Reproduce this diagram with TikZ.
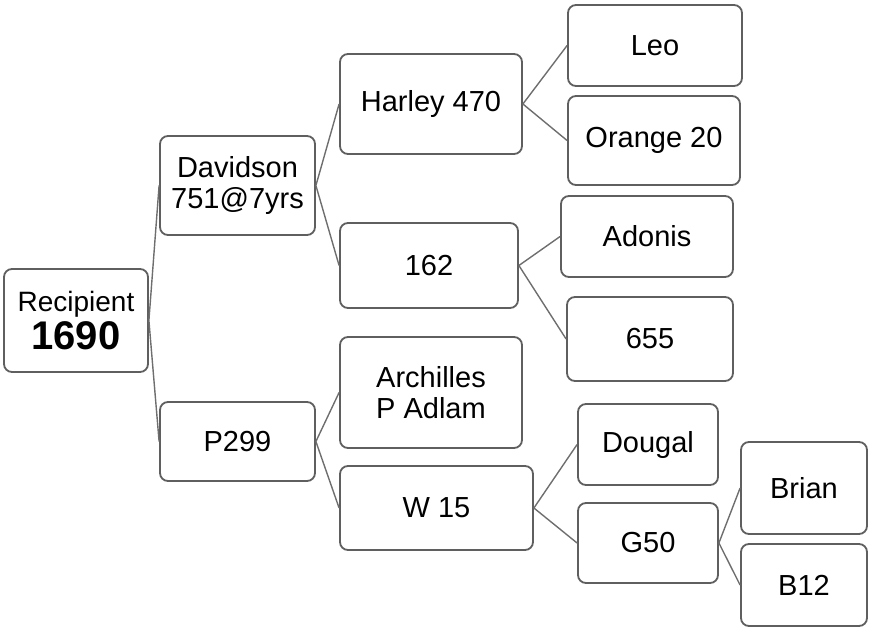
\documentclass[tikz,border=0pt]{standalone}
\usepackage{fontspec}
\setmainfont{Liberation Sans}
\usepackage{xcolor}
\definecolor{edgec}{RGB}{95,95,95}
\definecolor{linec}{RGB}{110,110,110}
\tikzset{
  box/.style={rectangle,rounded corners=4pt,draw=edgec,line width=0.9pt,fill=white,
    inner sep=0pt,align=center,font=\fontsize{14.5}{15.5}\selectfont},
  link/.style={line width=0.7pt,linec},
}

\begin{document}
\begin{tikzpicture}[x=0.5pt,y=-0.5pt,
  w/.style={minimum width=#1pt},
  h/.style={minimum height=#1pt}]
  \useasboundingbox (0,0) rectangle (869,633);
  % ---- root and first generation ----
  \node[box,w=72,h=51.5] (rec) at (76,320.5)
    {{\fontsize{14}{15}\selectfont Recipient}\\[1pt]{\fontsize{20}{21}\selectfont\bfseries 1690}};
  \node[box,w=77.5,h=49.5] (dav) at (237.5,185.5) {Davidson\\751@7yrs};
  \node[box,w=77.5,h=39.5] (p299) at (237.5,441.5) {P299};
  % ---- second generation ----
  \node[box,w=91,h=50] (har) at (431,104) {Harley 470};
  \node[box,w=89,h=42.5] (n162) at (429,265.5) {162};
  \node[box,w=91,h=55.5] (arc) at (431,392.5) {Archilles\\P Adlam};
  \node[box,w=96.5,h=42] (w15) at (436.5,508) {W 15};
  % ---- third generation ----
  \node[box,w=87,h=40.5] (leo) at (655,45.5) {Leo};
  \node[box,w=86,h=44.5] (ora) at (654,140.5) {Orange 20};
  \node[box,w=86,h=40.5] (ado) at (647,236.5) {Adonis};
  \node[box,w=83,h=42] (n655) at (650,339) {655};
  \node[box,w=70,h=40.5] (dou) at (648,444.5) {Dougal};
  \node[box,w=70,h=40] (g50) at (648,543) {G50};
  % ---- fourth generation ----
  \node[box,w=63,h=46] (bri) at (804,488) {Brian};
  \node[box,w=63,h=41] (b12) at (804,585) {B12};
  % ---- connectors ----
  \draw[link] (rec.east) -- (dav.west); \draw[link] (rec.east) -- (p299.west);
  \draw[link] (dav.east) -- (har.west); \draw[link] (dav.east) -- (n162.west);
  \draw[link] (p299.east) -- (arc.west); \draw[link] (p299.east) -- (w15.west);
  \draw[link] (har.east) -- (leo.west); \draw[link] (har.east) -- (ora.west);
  \draw[link] (n162.east) -- (ado.west); \draw[link] (n162.east) -- (n655.west);
  \draw[link] (w15.east) -- (dou.west); \draw[link] (w15.east) -- (g50.west);
  \draw[link] (g50.east) -- (bri.west); \draw[link] (g50.east) -- (b12.west);
\end{tikzpicture}
\end{document}
